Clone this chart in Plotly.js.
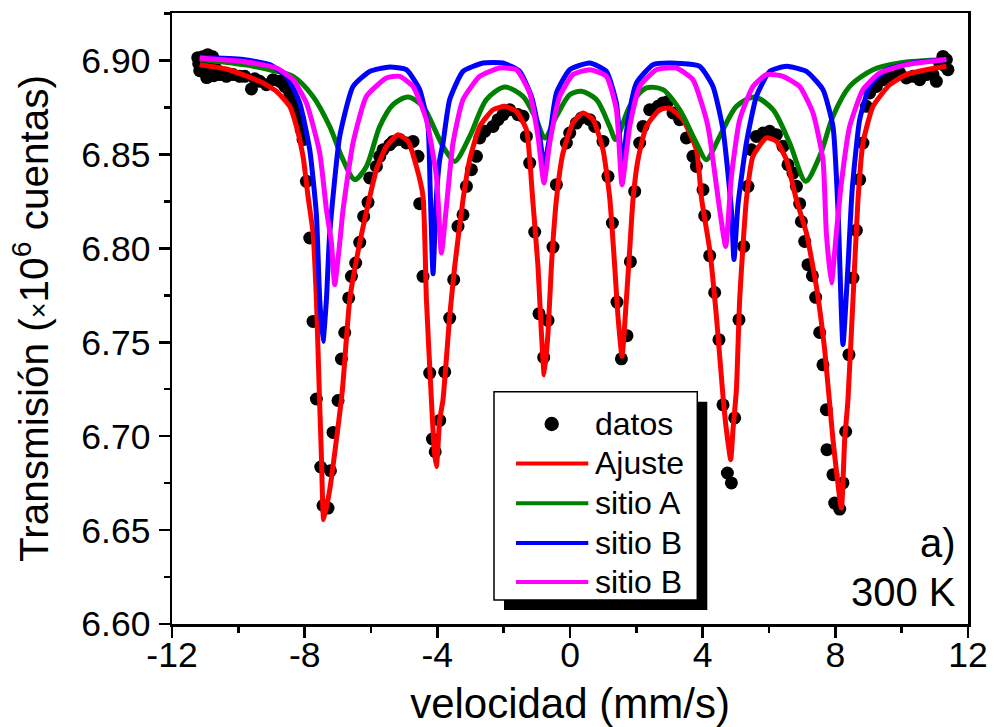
<!DOCTYPE html>
<html><head><meta charset="utf-8">
<script src="https://cdn.plot.ly/plotly-3.0.1.min.js"></script>
<style>body{margin:0;background:#fff}#chart{width:995px;height:727px}</style>
</head><body><div id="chart"></div>
<script>
// ---- data ----
const datosX = [-11.224,-11.073,-10.923,-10.772,-11.194,-11.043,-10.862,-11.164,-10.983,-10.832,-10.681,-10.953,-10.742,-10.561,-10.359,-10.160,-9.958,-9.807,-9.605,-9.506,-9.355,-9.153,-8.954,-8.752,-8.601,-8.450,-8.399,-8.248,-8.149,-8.104,-8.049,-7.947,-7.847,-7.748,-7.646,-7.516,-7.447,-7.296,-7.223,-7.145,-6.994,-6.892,-6.792,-6.672,-6.590,-6.461,-6.340,-6.220,-6.090,-6.039,-5.837,-5.737,-5.638,-5.436,-5.336,-5.134,-4.933,-4.733,-4.582,-4.531,-4.432,-4.230,-4.148,-4.064,-3.928,-3.778,-3.627,-3.506,-3.377,-3.226,-3.123,-2.973,-2.822,-2.722,-2.572,-2.321,-2.171,-2.020,-1.818,-1.568,-1.417,-1.314,-1.215,-1.064,-0.935,-0.793,-0.663,-0.513,-0.410,-0.109,-0.009,0.193,0.344,0.594,0.745,0.995,1.146,1.278,1.417,1.550,1.718,1.821,1.951,2.101,2.201,2.403,2.653,2.804,2.954,3.105,3.307,3.509,3.708,3.811,4.010,4.061,4.212,4.362,4.492,4.613,4.745,4.866,4.965,5.095,5.237,5.366,5.469,5.620,5.819,6.021,6.223,6.421,6.572,6.723,6.826,6.925,6.976,7.076,7.175,7.308,7.407,7.528,7.627,7.730,7.748,7.929,7.980,8.131,8.230,8.312,8.411,8.532,8.634,8.734,8.833,8.936,9.035,9.237,9.436,9.638,9.940,10.142,10.341,10.543,10.745,10.944,11.046,11.146,11.245,11.348,11.396,11.297];
const datosY = [6.9015,6.9020,6.9031,6.9020,6.8983,6.8973,6.8983,6.8946,6.8951,6.8935,6.8957,6.8909,6.8919,6.8925,6.8916,6.8925,6.8916,6.8916,6.8849,6.8903,6.8889,6.8871,6.8898,6.8889,6.8862,6.8827,6.8782,6.8738,6.8685,6.8632,6.8579,6.8357,6.8055,6.7611,6.7198,6.6836,6.6631,6.6617,6.6816,6.7020,6.7190,6.7411,6.7552,6.7736,6.7851,6.7922,6.8032,6.8170,6.8245,6.8375,6.8436,6.8490,6.8525,6.8552,6.8569,6.8579,6.8561,6.8569,6.8490,6.8238,6.7851,6.7336,6.6985,6.6917,6.7084,6.7342,6.7629,6.7833,6.8117,6.8179,6.8330,6.8419,6.8490,6.8588,6.8623,6.8649,6.8685,6.8712,6.8738,6.8712,6.8703,6.8596,6.8454,6.8087,6.7652,6.7419,6.7616,6.8007,6.8339,6.8561,6.8614,6.8667,6.8694,6.8685,6.8649,6.8569,6.8383,6.8135,6.7714,6.7412,6.7535,6.7929,6.8303,6.8561,6.8649,6.8738,6.8756,6.8774,6.8782,6.8721,6.8685,6.8588,6.8490,6.8436,6.8312,6.8174,6.7961,6.7765,6.7514,6.7167,6.6804,6.6751,6.7097,6.7620,6.8010,6.8330,6.8525,6.8596,6.8614,6.8623,6.8605,6.8543,6.8445,6.8401,6.8330,6.8238,6.8143,6.8037,6.7913,6.7854,6.7739,6.7552,6.7380,6.7141,6.6928,6.6795,6.6644,6.6612,6.6751,6.7025,6.7434,6.7842,6.8096,6.8366,6.8561,6.8756,6.8827,6.8862,6.8898,6.8916,6.8934,6.8907,6.8916,6.8898,6.8925,6.8925,6.8889,6.8987,6.9022,6.9005,6.8951,6.8973];

const ajusteX = [-11.164,-10.359,-9.355,-8.851,-8.450,-8.248,-8.049,-7.899,-7.748,-7.646,-7.561,-7.495,-7.425,-7.244,-7.043,-6.862,-6.641,-6.340,-6.090,-5.837,-5.535,-5.185,-4.884,-4.631,-4.432,-4.329,-4.179,-4.094,-4.028,-3.928,-3.829,-3.627,-3.476,-3.226,-3.024,-2.722,-2.321,-1.969,-1.616,-1.314,-1.124,-0.965,-0.862,-0.778,-0.663,-0.561,-0.410,-0.211,0.090,0.392,0.693,0.995,1.197,1.348,1.447,1.568,1.700,1.800,1.899,2.050,2.303,2.704,3.006,3.407,3.811,3.970,4.212,4.414,4.613,4.715,4.845,4.914,5.017,5.116,5.318,5.517,5.921,6.223,6.524,6.826,7.127,7.428,7.679,7.929,8.182,8.282,8.381,8.532,8.683,8.833,9.135,9.638,10.142,10.745,11.348];
const ajusteY = [6.8978,6.8955,6.8889,6.8836,6.8756,6.8649,6.8490,6.8277,6.8082,6.7727,6.7247,6.6892,6.6555,6.6715,6.6981,6.7247,6.7727,6.8029,6.8232,6.8419,6.8543,6.8605,6.8570,6.8436,6.8277,6.7727,6.7194,6.6928,6.6839,6.7088,6.7194,6.7638,6.7904,6.8259,6.8472,6.8649,6.8738,6.8756,6.8729,6.8632,6.8259,6.7904,6.7549,6.7327,6.7549,6.7904,6.8259,6.8508,6.8668,6.8721,6.8685,6.8525,6.8270,6.7904,6.7638,6.7425,6.7727,6.7993,6.8259,6.8472,6.8649,6.8738,6.8747,6.8685,6.8525,6.8259,6.7993,6.7638,6.7212,6.7034,6.6875,6.7034,6.7247,6.7727,6.8259,6.8490,6.8588,6.8570,6.8472,6.8259,6.8082,6.7797,6.7460,6.6981,6.6617,6.6981,6.7194,6.7727,6.8259,6.8561,6.8756,6.8871,6.8925,6.8951,6.8969];

const sitioAX = [-11.164,-9.858,-9.053,-8.351,-7.748,-7.245,-6.844,-6.491,-6.138,-5.737,-5.336,-4.884,-4.432,-4.028,-3.829,-3.476,-3.024,-2.520,-1.969,-1.417,-1.013,-0.763,-0.410,-0.009,0.344,0.796,1.197,1.378,1.800,2.303,2.804,3.307,3.811,4.112,4.513,5.017,5.568,6.120,6.623,7.106,7.528,7.929,8.432,9.135,9.940,11.348];
const sitioAY = [6.9005,6.8978,6.8951,6.8916,6.8809,6.8649,6.8472,6.8366,6.8436,6.8649,6.8765,6.8806,6.8756,6.8614,6.8543,6.8463,6.8596,6.8792,6.8859,6.8809,6.8685,6.8588,6.8703,6.8818,6.8836,6.8792,6.8649,6.8579,6.8756,6.8854,6.8845,6.8738,6.8561,6.8472,6.8596,6.8756,6.8806,6.8738,6.8561,6.8357,6.8490,6.8703,6.8862,6.8951,6.8987,6.9005];

const sitioB1X = [-11.164,-9.858,-9.053,-8.550,-8.149,-7.847,-7.646,-7.546,-7.447,-7.344,-7.244,-6.943,-6.542,-6.039,-5.436,-4.933,-4.531,-4.281,-4.215,-4.130,-4.034,-3.928,-3.829,-3.627,-3.226,-2.623,-2.020,-1.516,-1.164,-0.913,-0.784,-0.612,-0.410,-0.009,0.594,1.097,1.399,1.580,1.749,2.002,2.502,3.006,3.910,4.311,4.613,4.866,4.944,5.065,5.318,5.620,6.021,6.524,7.127,7.627,7.929,8.080,8.230,8.381,8.508,8.734,9.035,9.539,10.341,11.348];
const sitioB1Y = [6.9017,6.9005,6.8978,6.8916,6.8774,6.8525,6.8179,6.7727,6.7505,6.7727,6.8082,6.8596,6.8862,6.8942,6.8966,6.8951,6.8845,6.8649,6.8312,6.7865,6.8259,6.8472,6.8561,6.8792,6.8942,6.8987,6.8987,6.8942,6.8809,6.8596,6.8436,6.8596,6.8827,6.8951,6.8987,6.8942,6.8774,6.8436,6.8685,6.8880,6.8978,6.8987,6.8969,6.8862,6.8632,6.8206,6.7940,6.8232,6.8561,6.8809,6.8942,6.8969,6.8942,6.8845,6.8649,6.8206,6.7487,6.7904,6.8312,6.8685,6.8862,6.8951,6.8987,6.9005];

const sitioB2X = [-11.164,-9.858,-8.851,-8.351,-7.947,-7.546,-7.344,-7.193,-7.094,-6.943,-6.842,-6.542,-6.138,-5.535,-5.134,-4.733,-4.329,-4.028,-3.877,-3.726,-3.527,-3.226,-2.722,-2.119,-1.616,-1.215,-0.965,-0.784,-0.612,-0.311,0.090,0.594,1.097,1.399,1.568,1.800,2.101,2.605,3.208,3.708,4.112,4.212,4.513,4.694,4.866,5.116,5.517,5.921,6.421,6.925,7.326,7.627,7.729,7.881,8.031,8.182,8.432,8.833,9.337,10.142,11.348];
const sitioB2Y = [6.9014,6.8995,6.8960,6.8898,6.8774,6.8508,6.8206,6.8029,6.7807,6.8029,6.8206,6.8561,6.8809,6.8907,6.8916,6.8862,6.8685,6.8383,6.7975,6.8223,6.8561,6.8792,6.8916,6.8960,6.8951,6.8827,6.8596,6.8348,6.8561,6.8809,6.8925,6.8951,6.8916,6.8738,6.8339,6.8649,6.8862,6.8951,6.8960,6.8898,6.8685,6.8596,6.8206,6.8010,6.8383,6.8685,6.8862,6.8925,6.8916,6.8862,6.8721,6.8472,6.8082,6.7815,6.8082,6.8348,6.8649,6.8845,6.8934,6.8978,6.9005];

const seriesNames = ['datos', 'Ajuste', 'sitio A', 'sitio B', 'sitio B'];
const seriesColors = ['#000000', '#ff0000', '#008000', '#0000ff', '#ff00ff'];
const xTickVals = [-12, -8, -4, 0, 4, 8, 12];
const xTickText = ['-12', '-8', '-4', '0', '4', '8', '12'];
const yTickVals = [6.60, 6.65, 6.70, 6.75, 6.80, 6.85, 6.90];

// ---- figure ----
const FONT = '"Liberation Sans", Arial, Helvetica, sans-serif';
const LW = 5;
const traces = [
  {x: datosX, y: datosY, mode: 'markers', name: seriesNames[0], marker: {color: seriesColors[0], size: 13}},
  {x: ajusteX, y: ajusteY, mode: 'lines', name: seriesNames[1], line: {color: seriesColors[1], width: LW, shape: 'spline', smoothing: 0.5}},
  {x: sitioAX, y: sitioAY, mode: 'lines', name: seriesNames[2], line: {color: seriesColors[2], width: LW, shape: 'spline', smoothing: 0.8}},
  {x: sitioB1X, y: sitioB1Y, mode: 'lines', name: seriesNames[3], line: {color: seriesColors[3], width: LW, shape: 'spline', smoothing: 0.5}},
  {x: sitioB2X, y: sitioB2Y, mode: 'lines', name: seriesNames[4], line: {color: seriesColors[4], width: LW, shape: 'spline', smoothing: 0.5}}
];

const axisCommon = {
  showline: true, linewidth: 2.5, linecolor: '#000', mirror: true,
  ticks: 'outside', ticklen: 11, tickwidth: 2.5, tickcolor: '#000',
  showgrid: false, zeroline: false,
  tickfont: {size: 35.5, family: FONT, color: '#000'}
};

// legend box (drawn by hand to copy the boxed, shadowed legend of the reference)
const P = (px) => (px - 172) / 796;          // horizontal pixel -> paper
const Q = (py) => (624 - py) / 611;          // vertical pixel -> paper
const rowY = [424, 463.5, 503.3, 543, 582];
const shapes = [
  {type: 'rect', xref: 'paper', yref: 'paper', x0: P(504), x1: P(707.3), y0: Q(610), y1: Q(401.7), fillcolor: '#000', line: {width: 0}, layer: 'above'},
  {type: 'rect', xref: 'paper', yref: 'paper', x0: P(494), x1: P(697.3), y0: Q(600), y1: Q(391.7), fillcolor: '#fff', line: {color: '#000', width: 1.5}, layer: 'above'},
  {type: 'circle', xref: 'paper', yref: 'paper', x0: P(544.5), x1: P(558.9), y0: Q(rowY[0] + 7.2), y1: Q(rowY[0] - 7.2), fillcolor: seriesColors[0], line: {width: 0}, layer: 'above'}
];
for (let i = 1; i < 5; i++) {
  shapes.push({type: 'line', xref: 'paper', yref: 'paper', x0: P(516), x1: P(588.3), y0: Q(rowY[i]), y1: Q(rowY[i]), line: {color: seriesColors[i], width: 4}, layer: 'above'});
}
const annotations = seriesNames.map((n, i) => ({
  text: n, xref: 'paper', yref: 'paper', x: P(593), y: Q(rowY[i]), xanchor: 'left', yanchor: 'middle',
  showarrow: false, font: {size: 32, family: FONT, color: '#000'}
}));
annotations.push(
  {text: 'a)', xref: 'paper', yref: 'paper', x: P(958), y: Q(543), xanchor: 'right', yanchor: 'middle', showarrow: false, font: {size: 40, family: FONT, color: '#000'}},
  {text: '300 K', xref: 'paper', yref: 'paper', x: P(958), y: Q(592), xanchor: 'right', yanchor: 'middle', showarrow: false, font: {size: 40, family: FONT, color: '#000'}}
);

const layout = {
  width: 995, height: 727,
  margin: {l: 172, r: 27, t: 13, b: 103, pad: 0},
  paper_bgcolor: '#fff', plot_bgcolor: '#fff',
  font: {family: FONT, color: '#000'},
  showlegend: false,
  xaxis: Object.assign({}, axisCommon, {
    range: [-12, 12], tickmode: 'array', tickvals: xTickVals, ticktext: xTickText, ticklabelstandoff: -13,
    minor: {dtick: 2, tick0: 0, ticks: 'outside', ticklen: 6, tickwidth: 2.5, tickcolor: '#000'},
    title: {text: 'velocidad (mm/s)', font: {size: 42, family: FONT, color: '#000'}, standoff: 15}
  }),
  yaxis: Object.assign({}, axisCommon, {
    range: [6.60, 6.9253], tickmode: 'array', tickvals: yTickVals, tickformat: '.2f', ticklabelstandoff: 1,
    minor: {dtick: 0.025, tick0: 6.6, ticks: 'outside', ticklen: 6, tickwidth: 2.5, tickcolor: '#000'},
    title: {text: 'Transmisión (<span style="font-size:27px">×</span>10<sup>6</sup> cuentas)\u2004', font: {size: 40.5, family: FONT, color: '#000'}, standoff: 20}
  }),
  shapes: shapes,
  annotations: annotations
};

Plotly.newPlot('chart', traces, layout, {displayModeBar: false, staticPlot: true});
</script>
</body></html>
